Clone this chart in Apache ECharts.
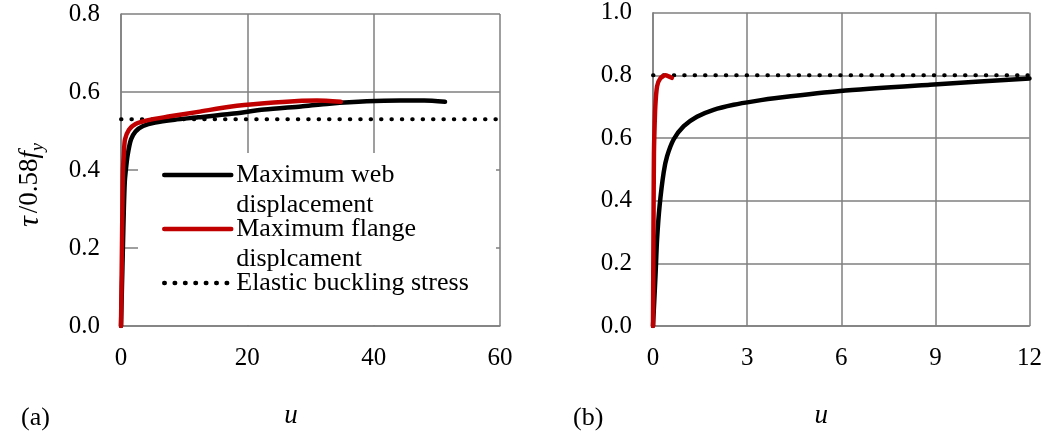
<!DOCTYPE html>
<html><head><meta charset="utf-8">
<script src="https://cdn.jsdelivr.net/npm/echarts@6/dist/echarts.min.js"></script>
<style>html,body{margin:0;padding:0;background:#fff}#c{width:1045px;height:434px}</style>
</head><body><div id="c"></div>
<script>
// ---- data (u, tau/0.58fy) ----
const webA = [[0,0],[0.15,0.1],[0.3,0.2],[0.45,0.3],[0.6,0.37],[0.74,0.396],[1.05,0.438],[1.58,0.478],[2.3,0.499],[3.5,0.513],[5.4,0.522],[8.5,0.529],[12.2,0.535],[17.5,0.544],[22.7,0.555],[28.5,0.563],[33,0.57],[38.9,0.576],[44.2,0.578],[48,0.578],[51.3,0.575]];
const flangeA = [[0,0],[0.08,0.1],[0.15,0.2],[0.22,0.3],[0.3,0.396],[0.45,0.44],[0.63,0.478],[1.26,0.503],[2.3,0.518],[4.3,0.528],[7.5,0.537],[12.2,0.549],[17.5,0.563],[22.7,0.571],[28,0.577],[31,0.578],[34.8,0.575]];
const elasticA = [[0,0.53],[60,0.53]];
const webB = [[0,0],[0.04,0.08],[0.084,0.171],[0.13,0.277],[0.21,0.383],[0.34,0.49],[0.45,0.542],[0.66,0.596],[0.98,0.638],[1.4,0.668],[1.93,0.69],[2.57,0.706],[3.2,0.717],[4.06,0.729],[5.97,0.75],[8.83,0.77],[12,0.79]];
const flangeB = [[0,0],[0.01,0.2],[0.02,0.4],[0.03,0.55],[0.04,0.6],[0.073,0.7],[0.13,0.765],[0.23,0.79],[0.39,0.8],[0.5,0.797],[0.6,0.792]];
const elasticB = [[0,0.8],[12,0.8]];
const xAxisA = [0, 60, 20];   // min, max, interval
const yAxisA = [0, 0.8, 0.2];
const xAxisB = [0, 12, 3];
const yAxisB = [0, 1.0, 0.2];
const seriesNames = ['Maximum web displacement', 'Maximum flange displcament', 'Elastic buckling stress'];
const panelLabels = ['(a)', '(b)'];
const xName = 'u';

const FONT = '"Liberation Serif", "Times New Roman", serif';
const GRID_C = '#7f7f7f';
const chart = echarts.init(document.getElementById('c'), null, {renderer: 'canvas'});

function xAxis(gi, r, namePad) {
  return {
    type: 'value', gridIndex: gi, min: r[0], max: r[1], interval: r[2],
    name: xName, nameLocation: 'middle', nameGap: 76,
    nameTextStyle: {fontFamily: FONT, fontSize: 27, fontStyle: 'italic', color: '#000', padding: namePad},
    axisLine: {show: true, onZero: false, lineStyle: {color: GRID_C, width: 1.5}},
    axisTick: {show: false},
    axisLabel: {fontFamily: FONT, fontSize: 25, color: '#000', margin: 20, formatter: v => String(v)},
    splitLine: {show: true, lineStyle: {color: GRID_C, width: 1.5}}
  };
}
function yAxis(gi, r, withName) {
  const o = {
    type: 'value', gridIndex: gi, min: r[0], max: r[1], interval: r[2],
    axisLine: {show: true, onZero: false, lineStyle: {color: GRID_C, width: 1.5}},
    axisTick: {show: false},
    axisLabel: {fontFamily: FONT, fontSize: 25, color: '#000', margin: 21, formatter: v => v.toFixed(1)},
    splitLine: {show: true, lineStyle: {color: GRID_C, width: 1.5}}
  };
  if (withName) {
    Object.assign(o, {
      name: '{t|τ}/0.58{i|f}{s|y}', nameLocation: 'middle', nameRotate: 90, nameGap: 74,
      nameTextStyle: {
        fontFamily: FONT, fontSize: 27, color: '#000', lineHeight: 34, padding: [0, 30, 0, 0],
        rich: {
          t: {fontFamily: FONT, fontSize: 30, fontStyle: 'italic', color: '#000', lineHeight: 34, padding: [0, 3, 0, 0]},
          i: {fontFamily: FONT, fontSize: 27, fontStyle: 'italic', color: '#000', lineHeight: 34},
          s: {fontFamily: FONT, fontSize: 18, fontStyle: 'italic', color: '#000', verticalAlign: 'bottom', lineHeight: 18}
        }
      }
    });
  }
  return o;
}
function lineSeries(name, data, xi, color, dotted) {
  return {
    type: 'line', name, data, xAxisIndex: xi, yAxisIndex: xi,
    symbol: 'none', smooth: dotted ? false : 0.25, clip: true, z: dotted ? 3 : 4,
    itemStyle: {color},
    lineStyle: dotted
      ? {color: '#000', width: 4, type: [0.5, 9.9], cap: 'round'}
      : {color, width: 4.5, cap: 'round', join: 'round'},
    emphasis: {disabled: true}
  };
}
const legendFmt = {
  'Maximum web displacement': '\nMaximum web\ndisplacement',
  'Maximum flange displcament': '\nMaximum flange\ndisplcament',
  'Elastic buckling stress': '\nElastic buckling stress\n'
};

chart.setOption({
  animation: false,
  backgroundColor: '#fff',
  grid: [
    {left: 121, top: 14, width: 379, height: 315},
    {left: 653, top: 12.7, width: 376.5, height: 314.7}
  ],
  xAxis: [xAxis(0, xAxisA, [0, 39, 0, 0]), xAxis(1, xAxisB, [0, 40, 0, 0])],
  yAxis: [yAxis(0, yAxisA, true), yAxis(1, yAxisB, false)],
  title: [
    {text: panelLabels[0], left: 21, top: 405, padding: 0, textStyle: {fontFamily: FONT, fontSize: 26, fontWeight: 'normal', color: '#000'}},
    {text: panelLabels[1], left: 573, top: 405, padding: 0, textStyle: {fontFamily: FONT, fontSize: 26, fontWeight: 'normal', color: '#000'}}
  ],
  graphic: [{type: 'rect', z: 1, shape: {x: 138, y: 153, width: 358, height: 172}, style: {fill: '#fff'}, silent: true}],
  legend: {
    orient: 'vertical', left: 162, top: 130, padding: 0, itemGap: -36,
    itemWidth: 67, itemHeight: 14, selectedMode: false,
    lineStyle: {width: 4.5},
    itemStyle: {opacity: 0},
    textStyle: {fontFamily: FONT, fontSize: 26, color: '#000', lineHeight: 30},
    formatter: n => legendFmt[n],
    data: seriesNames.map(n => ({name: n}))
  },
  series: [
    lineSeries(seriesNames[2], elasticA, 0, '#000', true),
    lineSeries(seriesNames[0], webA, 0, '#000', false),
    lineSeries(seriesNames[1], flangeA, 0, '#c00000', false),
    lineSeries(seriesNames[2], elasticB, 1, '#000', true),
    lineSeries(seriesNames[0], webB, 1, '#000', false),
    lineSeries(seriesNames[1], flangeB, 1, '#c00000', false)
  ]
});
</script></body></html>
